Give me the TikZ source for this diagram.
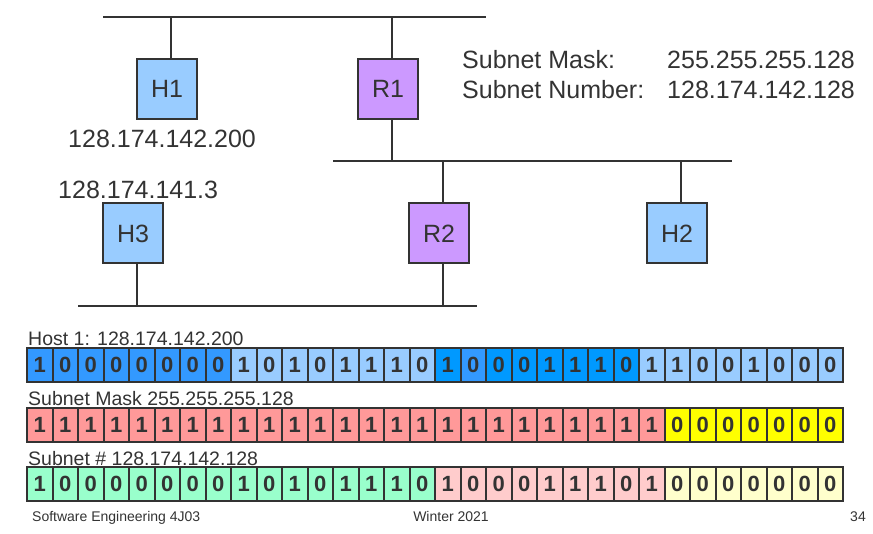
\documentclass[tikz,border=0pt]{standalone}
\usepackage{fontspec}
\setmainfont{Liberation Sans}
\usetikzlibrary{positioning}
\definecolor{ink}{HTML}{333333}
\definecolor{hostblue}{HTML}{99CCFF}
\definecolor{routerviolet}{HTML}{CC99FF}
\definecolor{hostA}{HTML}{3399FF}
\definecolor{hostB}{HTML}{99CCFF}
\definecolor{hostC}{HTML}{0099FF}
\definecolor{maskOne}{HTML}{FF9999}
\definecolor{maskZero}{HTML}{FFFF00}
\definecolor{netA}{HTML}{99FFCC}
\definecolor{netB}{HTML}{FFCCCC}
\definecolor{netC}{HTML}{FFFFCC}
\tikzset{
  bus/.style={draw=ink, line width=2pt},
  station/.style={draw=ink, line width=2pt, minimum size=60pt, inner sep=0pt, text=ink, font=\fontsize{25}{30}\selectfont},
  host/.style={station, fill=hostblue},
  router/.style={station, fill=routerviolet},
  addr/.style={anchor=base west, inner sep=0pt, text=ink, font=\fontsize{25}{30}\selectfont},
  bit/.style={draw=ink, line width=2pt, minimum width=25.5pt, minimum height=34pt, inner sep=0pt, text=ink, font=\fontsize{22}{26}\selectfont\bfseries},
  rowlabel/.style={anchor=base west, inner sep=0pt, text=ink, font=\fontsize{19.5}{23}\selectfont},
  footer/.style={inner sep=0pt, text=ink, font=\fontsize{14}{17}\selectfont}
}
% #1 row name, #2 first index, #3 colour, #4 row centre, #5 digits
\newcommand{\bits}[5]{%
  \foreach \b [count=\i from #2] in {#5}
    \node[bit, fill=#3] (#1\i) at ({27+25.5*(\i-0.5)}, #4) {\b};}

\begin{document}
\begin{tikzpicture}[x=1pt, y=-1pt]
  \useasboundingbox (0,0) rectangle (873,534);

  % networks
  \coordinate (topL) at (103,17);  \coordinate (topR) at (486,17);
  \coordinate (midL) at (333,161); \coordinate (midR) at (732,161);
  \coordinate (lowL) at (78,306);  \coordinate (lowR) at (477,306);
  \draw[bus] (topL) -- (topR);
  \draw[bus] (midL) -- (midR);
  \draw[bus] (lowL) -- (lowR);

  \node[host]   (H1) at (167,89)    {H1};
  \node[router] (R1) at (388,89)    {R1};
  \node[host]   (H3) at (133,233.5) {H3};
  \node[router] (R2) at (439,233.5) {R2};
  \node[host]   (H2) at (677,233.5) {H2};

  \coordinate (h1tap) at (171,17);
  \coordinate (r1tap) at (392,17);
  \coordinate (r1mid) at (392,161);
  \coordinate (r2tap) at (443,161);
  \coordinate (r2low) at (443,306);
  \coordinate (h2tap) at (681,161);
  \coordinate (h3tap) at (137,306);
  \draw[bus] (h1tap) -- (h1tap |- H1.north);
  \draw[bus] (r1tap) -- (r1tap |- R1.north);
  \draw[bus] (r1mid |- R1.south) -- (r1mid);
  \draw[bus] (r2tap) -- (r2tap |- R2.north);
  \draw[bus] (r2low |- R2.south) -- (r2low);
  \draw[bus] (h2tap) -- (h2tap |- H2.north);
  \draw[bus] (h3tap |- H3.south) -- (h3tap);

  \node[addr] (h1addr) at (68,148) {128.174.142.200};
  \node[addr] (h3addr) at (58,199) {128.174.141.3};

  \node[addr] (masklbl) at (462,69) {Subnet Mask:};
  \node[addr] (maskval) at (667,69) {255.255.255.128};
  \node[addr] (netlbl)  at (462,99) {Subnet Number:};
  \node[addr] (netval)  at (667,99) {128.174.142.128};

  % host 1 bits
  \bits{host}{1}{hostA}{365}{1,0,0,0,0,0,0,0}
  \bits{host}{9}{hostB}{365}{1,0,1,0,1,1,1,0}
  \bits{host}{17}{hostC}{365}{1}
  \bits{host}{18}{hostA}{365}{0}
  \bits{host}{19}{hostC}{365}{0,0,1,1,1,0}
  \bits{host}{25}{hostB}{365}{1,1,0,0,1,0,0,0}

  % mask bits
  \bits{mask}{1}{maskOne}{425}{1,1,1,1,1,1,1,1,1,1,1,1,1,1,1,1,1,1,1,1,1,1,1,1,1}
  \bits{mask}{26}{maskZero}{425}{0,0,0,0,0,0,0}

  % subnet bits
  \bits{net}{1}{netA}{484}{1,0,0,0,0,0,0,0,1,0,1,0,1,1,1,0}
  \bits{net}{17}{netB}{484}{1,0,0,0,1,1,1,0,1}
  \bits{net}{26}{netC}{484}{0,0,0,0,0,0,0}

  \node[rowlabel, xshift=2pt, yshift=1pt] (hostlbl) at (host1.north west) {Host 1: 128.174.142.200};
  \node[rowlabel, xshift=2pt, yshift=1pt] (masklbl2) at (mask1.north west) {Subnet Mask 255.255.255.128};
  \node[rowlabel, xshift=2pt, yshift=1pt] (netlbl2) at (net1.north west) {Subnet \# 128.174.142.128};

  \node[footer, anchor=base west] (course) at (32,521) {Software Engineering 4J03};
  \node[footer, anchor=base] (term) at (451,521) {Winter 2021};
  \node[footer, anchor=base east] (page) at (866,521) {34};
\end{tikzpicture}
\end{document}
